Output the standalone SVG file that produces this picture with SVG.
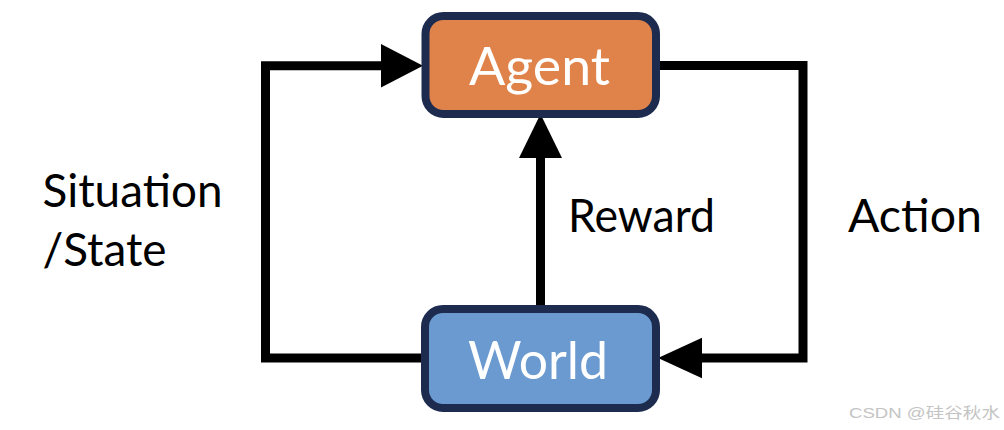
<svg xmlns="http://www.w3.org/2000/svg" width="1004" height="430" viewBox="0 0 1004 430">
<style>
.box{stroke:#1D2B4F;stroke-width:8}
.wire{fill:none;stroke:#000;stroke-width:9;stroke-linejoin:miter;stroke-linecap:butt}
.head{fill:#000}
.lbl{font-family:Lato,"Open Sans","Liberation Sans",sans-serif;font-size:47px;fill:#000}
.nlbl{font-family:Lato,"Open Sans","Liberation Sans",sans-serif;font-size:53px;fill:#fff}
.wm{font-family:"Liberation Sans","Noto Sans CJK SC",sans-serif;font-size:15px;fill:#c4c4c4}
</style>
<rect width="1004" height="430" fill="#fff"/>
<g id="connectors">
<path class="wire" d="M425,358 H265.5 V65.7 H384"/>
<polygon class="head" points="381,44 423,65.7 381,87.4"/>
<path class="wire" d="M656,65.5 H803 V358 H700"/>
<polygon class="head" points="658,358 702,337.7 702,378.3"/>
<path class="wire" d="M540.5,305 V156"/>
<polygon class="head" points="519,158 540.5,114 562,158"/>
</g>
<g id="agent">
<rect class="box" x="425.5" y="16" width="230.5" height="98" rx="18" fill="#E0834A"/>
<text class="nlbl" x="469" y="85" textLength="141" lengthAdjust="spacingAndGlyphs">Agent</text>
</g>
<g id="world">
<rect class="box" x="425" y="309" width="231" height="99" rx="18" fill="#6A9AD0"/>
<text class="nlbl" x="468" y="379" textLength="140" lengthAdjust="spacingAndGlyphs">World</text>
</g>
<g id="labels">
<text class="lbl" x="42.5" y="206.5" textLength="180" lengthAdjust="spacingAndGlyphs">Situation</text>
<text class="lbl" x="42.5" y="266" textLength="124" lengthAdjust="spacingAndGlyphs">/State</text>
<text class="lbl" x="568" y="231.5" textLength="147" lengthAdjust="spacingAndGlyphs">Reward</text>
<text class="lbl" x="848" y="231.5" textLength="134" lengthAdjust="spacingAndGlyphs">Action</text>
</g>
<text class="wm" x="849" y="418" textLength="151" lengthAdjust="spacingAndGlyphs">CSDN @硅谷秋水</text>
</svg>
